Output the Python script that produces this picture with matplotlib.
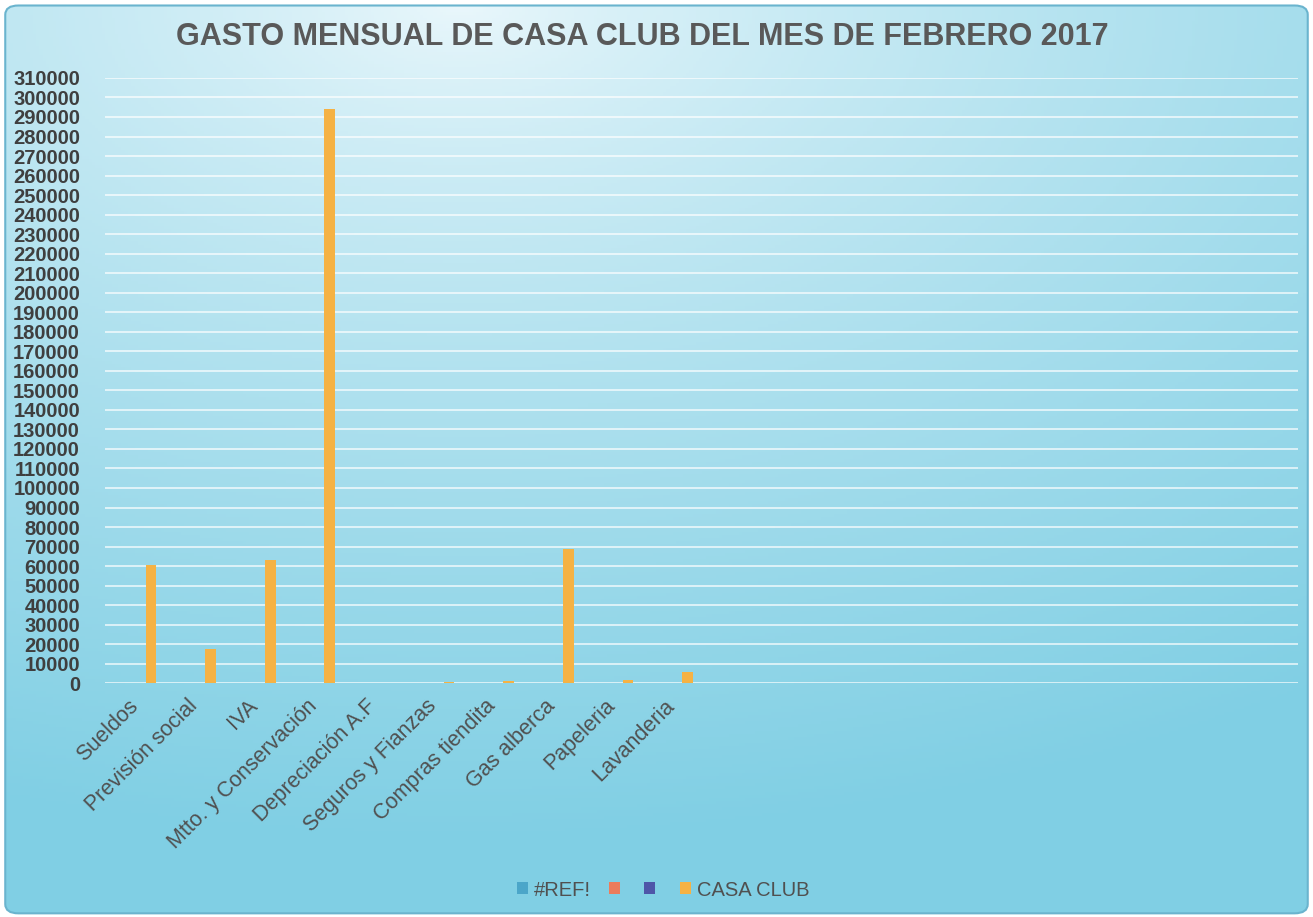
import numpy as np
import matplotlib.pyplot as plt
from matplotlib.patches import Patch, FancyBboxPatch

# Data
categories = ['Sueldos', 'Previsión social', 'IVA', 'Mtto. y Conservación',
              'Depreciación A.F', 'Seguros y Fianzas', 'Compras tiendita',
              'Gas alberca', 'Papeleria', 'Lavanderia',
              '', '', '', '', '', '', '', '', '', '']
casa_club = [60600, 17600, 63200, 294200, 0, 500, 1400, 69000, 1700, 6000,
             0, 0, 0, 0, 0, 0, 0, 0, 0, 0]
ref_series = [0, 0, 0, 0, 0, 0, 0, 0, 0, 0, 0, 0, 0, 0, 0, 0, 0, 0, 0, 0]
blank_a = [0, 0, 0, 0, 0, 0, 0, 0, 0, 0, 0, 0, 0, 0, 0, 0, 0, 0, 0, 0]
blank_b = [0, 0, 0, 0, 0, 0, 0, 0, 0, 0, 0, 0, 0, 0, 0, 0, 0, 0, 0, 0]
series_names = ['#REF!', '', '', 'CASA CLUB']
series_colors = ['#4BA6C9', '#EC7C5B', '#4E56A8', '#F5B244']

title = 'GASTO MENSUAL DE CASA CLUB DEL MES DE FEBRERO 2017'
y_max = 310000
y_step = 10000

plt.rcParams['font.family'] = ['Liberation Sans', 'DejaVu Sans']

fig = plt.figure(figsize=(13.13, 9.17), dpi=100)
fig.patch.set_facecolor('white')

# background: scanned paper gradient, light top centre to cyan edges
bg = fig.add_axes([0, 0, 1, 1], zorder=-10)
bg.axis('off')
gx, gy = np.meshgrid(np.linspace(0, 1, 400), np.linspace(0, 1, 300))
dist = np.sqrt((gx - 0.35) ** 2 + ((gy - 1.0) * 1.25) ** 2)
t = np.clip(dist / 1.15, 0, 1) ** 0.75
light = np.array([236, 248, 252]) / 255
dark = np.array([128, 207, 228]) / 255
grad = light[None, None, :] * (1 - t[..., None]) + dark[None, None, :] * t[..., None]
im = bg.imshow(grad, extent=[0, 1, 0, 1], origin='lower', aspect='auto')
bg.set_xlim(0, 1)
bg.set_ylim(0, 1)
frame = FancyBboxPatch((0.004, 0.004), 0.992, 0.99,
                       boxstyle='round,pad=0,rounding_size=0.01',
                       transform=bg.transAxes, fill=False,
                       ec='#6AB4CE', lw=1.5)
bg.add_patch(frame)
im.set_clip_path(frame)

ax = fig.add_axes([0.080, 0.2549, 0.9086, 0.6601])
ax.set_facecolor('none')

n = len(categories)
x = np.arange(n)
w = 0.179
all_series = [ref_series, blank_a, blank_b, casa_club]
for i, (vals, col) in enumerate(zip(all_series, series_colors)):
    ax.bar(x + (i - 1.5) * w, vals, width=w, color=col, zorder=3)

ax.set_xlim(-0.5, n - 0.5)
ax.set_ylim(0, y_max)
ax.set_yticks(np.arange(0, y_max + 1, y_step))
ax.set_yticklabels([str(v) for v in range(0, y_max + 1, y_step)],
                   fontsize=14.5, fontweight='bold', color='#3F3F3F')
ax.yaxis.grid(True, color='white', lw=1.1, alpha=0.85, zorder=0)
ax.set_axisbelow(True)

ax.set_xticks(x)
ax.set_xticklabels(categories, rotation=45, ha='right', va='center',
                   rotation_mode='anchor', fontsize=15.5, color='#505050')
ax.tick_params(axis='x', length=0, pad=14)
ax.tick_params(axis='y', length=0, pad=18)
for s in ax.spines.values():
    s.set_visible(False)

fig.text(0.489, 0.9597, title, ha='center', va='center',
         fontsize=22, fontweight='bold', color='#595959')

handles = [Patch(facecolor=c) for c in series_colors]
fig.legend(handles, series_names, loc='center', bbox_to_anchor=(0.505, 0.0294),
           ncol=4, frameon=False, handlelength=0.55, handleheight=0.55,
           handletextpad=0.3, columnspacing=0.9, fontsize=14.5,
           labelcolor='#505050')

fig.savefig('out.png', dpi=100)
